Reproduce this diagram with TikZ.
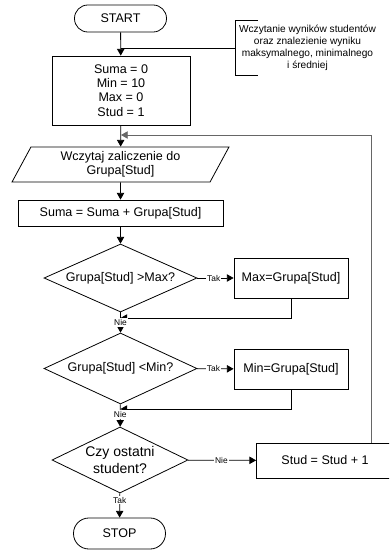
\documentclass[tikz,border=0pt]{standalone}
\usepackage{fontspec}
\setmainfont{Liberation Sans}
\usetikzlibrary{shapes.geometric,arrows.meta}

\begin{document}
\begin{tikzpicture}[x=0.75pt,y=-0.75pt,line width=0.6pt,
        every node/.style={font=\fontsize{9.4}{10.7}\selectfont,align=center,inner sep=0pt},
        term/.style={draw,rectangle,minimum width=69pt},
        proc/.style={draw,rectangle},
        dec/.style={draw,diamond},
        io/.style={draw,trapezium,trapezium left angle=64,trapezium right angle=116,trapezium stretches=true},
        arr/.style={-{Triangle[length=5pt,width=5.5pt]}},
        lbl/.style={fill=white,font=\fontsize{6.3}{7}\selectfont,inner sep=0.8pt}]
        \clip (0,0) rectangle (389,553);
        %\draw[step=10,help lines] (0,0) grid (389,553);
        \node[term,rounded corners=10pt,minimum height=20.25pt] (start) at (120.5,18.5) {START};
        \node[minimum width=108pt,minimum height=40.5pt,font=\fontsize{7.6}{9}\selectfont] (note) at (307.5,48)
            {Wczytanie wyników studentów\\oraz znalezienie wyniku\\maksymalnego, minimalnego\\i średniej};
        \node[proc,minimum width=103.5pt,minimum height=51.75pt] (init) at (121,90.5)
            {Suma = 0\\Min = 10\\Max = 0\\Stud = 1};
        \node[io,minimum width=162.75pt,minimum height=26.25pt] (read) at (120.5,164.5)
            {Wczytaj zaliczenie do\\Grupa[Stud]};
        \node[proc,minimum width=153.75pt,minimum height=19.5pt] (sum) at (120.5,213) {Suma = Suma + Grupa[Stud]};
        \node[dec,aspect=2.25,minimum width=114.75pt,minimum height=51pt] (qmax) at (120.5,278) {Grupa[Stud] >Max?};
        \node[proc,minimum width=85.5pt,minimum height=30pt] (setmax) at (291,278) {Max=Grupa[Stud]};
        \node[dec,aspect=2.15,minimum width=114.75pt,minimum height=53.25pt] (qmin) at (120.5,368.5) {Grupa[Stud] <Min?};
        \node[proc,minimum width=85.5pt,minimum height=30pt] (setmin) at (291,369) {Min=Grupa[Stud]};
        \node[dec,aspect=2.06,minimum width=102pt,minimum height=49.5pt,font=\fontsize{10.5}{12.5}\selectfont] (qlast) at (120,460)
            {Czy ostatni\\student?};
        \node[proc,minimum width=102.75pt,minimum height=26.25pt] (incr) at (325,460.5) {Stud = Stud + 1};
        \node[term,rounded corners=11.5pt,minimum height=23.25pt] (stop) at (119.5,533.5) {STOP};
        \coordinate (m1) at (120.5,318);
        \coordinate (m2) at (120.5,409);
        \coordinate (back) at (371,135);

        \draw (note.north west) ++(23,0) -- (note.north west) -- (note.south west) -- ++(23,0);
        \draw (note.west) -- (start |- note.west);
        \draw[arr] (start) -- (init);
        \draw[arr] (init) -- (read);
        \draw[arr] (read) -- (sum);
        \draw[arr] (sum) -- (qmax);
        \draw[arr] (qmax) -- node[lbl,pos=0.45] {Tak} (setmax);
        \draw[arr] (setmax.south) |- (m1);
        \draw[arr] (qmax) -- node[lbl] {Nie} (qmin);
        \draw[arr] (qmin) -- node[lbl,pos=0.45] {Tak} (setmin);
        \draw[arr] (setmin.south) |- (m2);
        \draw[arr] (qmin) -- node[lbl,pos=0.45] {Nie} (qlast);
        \draw[arr] (qlast) -- node[lbl,pos=0.49] {Nie} (incr);
        \draw[arr] (qlast) -- node[lbl,pos=0.28] {Tak} (stop);
        \draw[arr,black!60] (incr.north -| back) -- (back) -- (init |- back);
    \end{tikzpicture}
\end{document}
